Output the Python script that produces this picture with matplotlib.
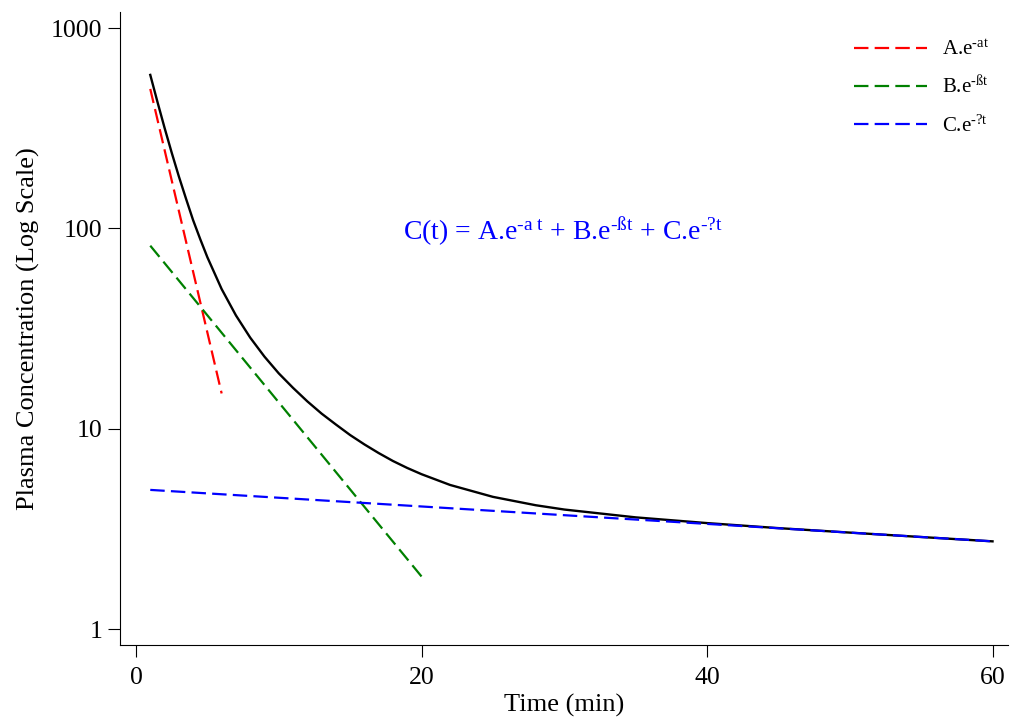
import matplotlib
matplotlib.use('Agg')
import matplotlib.pyplot as plt

plt.rcParams['font.family'] = ['Liberation Serif', 'DejaVu Serif']
plt.rcParams['mathtext.fontset'] = 'custom'
plt.rcParams['mathtext.rm'] = 'Liberation Serif'
plt.rcParams['mathtext.it'] = 'Liberation Serif:italic'

# total concentration (black curve)
t_total = [1, 1.5, 2, 2.5, 3, 3.5, 4, 4.5, 5, 6, 7, 8, 9, 10, 11, 12, 13, 14, 15,
           16, 17, 18, 19, 20, 22, 25, 28, 30, 35, 40, 45, 50, 55, 60]
c_total = [584, 429, 318, 239, 182, 141, 110, 88.4, 71.8, 49.8, 36.8, 28.5, 22.9,
           18.9, 16.0, 13.7, 11.9, 10.5, 9.3, 8.35, 7.56, 6.9, 6.37, 5.93, 5.24,
           4.57, 4.15, 3.95, 3.61, 3.38, 3.19, 3.03, 2.88, 2.74]

# component lines (straight on log scale)
t_a = [1, 6]
c_a = [497, 15.0]
t_b = [1, 20]
c_b = [82, 1.83]
t_c = [1, 60]
c_c = [4.95, 2.74]

fig = plt.figure(figsize=(10.11, 7.25), dpi=100)
ax = fig.add_axes([0.1187, 0.1103, 0.878, 0.873])

dash = (0, (6.5, 2.8))
ax.plot(t_total, c_total, color='black', linewidth=1.7)
ax.plot(t_a, c_a, color='red', linewidth=1.6, linestyle=dash, label=r'A.e$^{\text{-at}}$')
ax.plot(t_b, c_b, color='green', linewidth=1.6, linestyle=dash, label=r'B.e$^{\text{-ßt}}$')
ax.plot(t_c, c_c, color='blue', linewidth=1.6, linestyle=dash, label=r'C.e$^{\text{-?t}}$')

ax.set_yscale('log')
ax.set_xlim(-1.12, 61.06)
ax.set_ylim(0.832, 1202)
ax.set_xticks([0, 20, 40, 60])
ax.set_yticks([1, 10, 100, 1000])
ax.set_yticklabels(['1', '10', '100', '1000'])
ax.yaxis.set_minor_locator(matplotlib.ticker.NullLocator())
ax.tick_params(axis='x', direction='out', length=8.6, labelsize=18.5, pad=7)
ax.tick_params(axis='y', direction='out', length=8.6, labelsize=18.5, pad=4)

for side in ['top', 'right']:
    ax.spines[side].set_visible(False)

ax.set_xlabel('Time (min)', fontsize=19, labelpad=4)
ax.set_ylabel('Plasma Concentration (Log Scale)', fontsize=19, labelpad=8)

ax.text(29.9, 97, r'C(t) = A.e$^{\text{-a t}}$ + B.e$^{\text{-ßt}}$ + C.e$^{\text{-?t}}$',
        color='blue', fontsize=20, ha='center', va='center')

ax.legend(loc='upper right', frameon=False, fontsize=15, handlelength=3.5,
          handletextpad=0.7, labelspacing=0.8, bbox_to_anchor=(1.0, 0.985))

fig.savefig('out.png', dpi=100)
